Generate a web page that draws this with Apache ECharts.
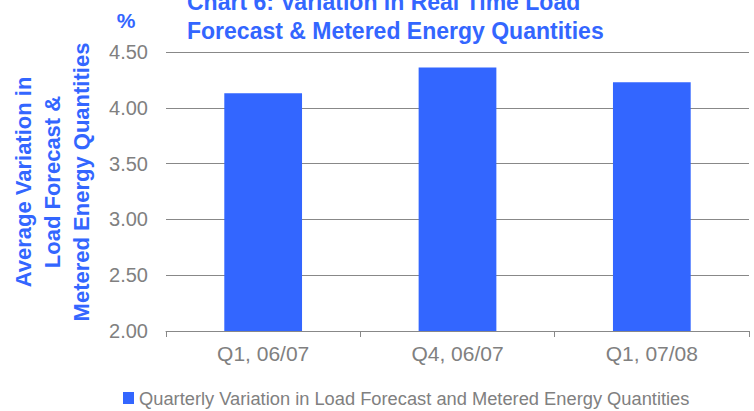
<!DOCTYPE html>
<html>
<head>
<meta charset="utf-8">
<style>
  html, body { margin: 0; padding: 0; background: #fff; }
  #chart { width: 754px; height: 411px; }
</style>
<script src="https://cdn.jsdelivr.net/npm/echarts@6/dist/echarts.min.js"></script>
</head>
<body>
<div id="chart"></div>
<script>
// Quarterly averages of the real-time load forecast vs metered energy variation (%)
const categories = ['Q1, 06/07', 'Q4, 06/07', 'Q1, 07/08'];
const variationValues = [4.13, 4.36, 4.23];
const seriesName = 'Quarterly Variation in Load Forecast and Metered Energy Quantities';
const titleLines = ['Chart 6: Variation in Real Time Load', 'Forecast & Metered Energy Quantities'];
const yTitleLines = ['Average Variation in', 'Load Forecast &', 'Metered Energy Quantities'];

const BLUE = '#3366FF';
const GREY = '#808080';
const FONT = '"Liberation Sans", Arial, sans-serif';

const chart = echarts.init(document.getElementById('chart'), null, { renderer: 'svg' });

chart.setOption({
  animation: false,
  backgroundColor: '#ffffff',
  textStyle: { fontFamily: FONT },
  grid: { left: 166, right: 5, top: 52, bottom: 80, containLabel: false },
  graphic: [
    {
      type: 'text', x: 187, y: 2,
      style: {
        text: titleLines[0], fill: BLUE, font: 'bold 23px ' + FONT,
        textAlign: 'left', textVerticalAlign: 'middle'
      }
    },
    {
      type: 'text', x: 187, y: 31,
      style: {
        text: titleLines[1], fill: BLUE, font: 'bold 23px ' + FONT,
        textAlign: 'left', textVerticalAlign: 'middle'
      }
    },
    {
      type: 'text', x: 126, y: 20,
      style: { text: '%', fill: BLUE, font: 'bold 21px ' + FONT, textAlign: 'center', textVerticalAlign: 'middle' }
    },
    {
      type: 'text', x: 52, y: 182, rotation: Math.PI / 2,
      style: {
        text: yTitleLines.join('\n'), fill: BLUE, font: 'bold 22px ' + FONT,
        lineHeight: 29, textAlign: 'center', textVerticalAlign: 'middle'
      }
    }
  ],
  legend: {
    left: 118, top: 384,
    itemWidth: 11, itemHeight: 12, itemGap: 6,
    icon: 'rect',
    textStyle: { color: GREY, fontSize: 18.3, fontFamily: FONT },
    data: [seriesName]
  },
  xAxis: {
    type: 'category',
    data: categories,
    axisLine: { lineStyle: { color: '#888888', width: 1 } },
    axisTick: { show: true, length: 6, lineStyle: { color: '#888888' } },
    axisLabel: { color: GREY, fontSize: 21, margin: 12, fontFamily: FONT }
  },
  yAxis: {
    type: 'value',
    min: 2, max: 4.5, interval: 0.5,
    axisLine: { show: false },
    axisTick: { show: false },
    axisLabel: {
      color: GREY, fontSize: 20, margin: 18, fontFamily: FONT,
      formatter: v => v.toFixed(2)
    },
    splitLine: { lineStyle: { color: '#888888', width: 1 } }
  },
  series: [{
    name: seriesName,
    type: 'bar',
    data: variationValues,
    barWidth: '40%',
    itemStyle: { color: BLUE }
  }]
});
</script>
</body>
</html>
